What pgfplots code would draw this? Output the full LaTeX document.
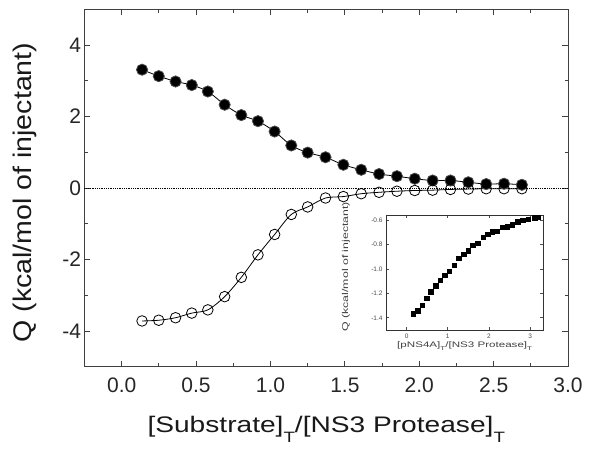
\documentclass[border=0pt]{standalone}
\usepackage{fontspec}
\setmainfont{Liberation Sans}
\newfontfamily\xlabfont[FakeStretch=1.25]{Liberation Sans}
\newfontfamily\ylabfont[FakeStretch=1.12]{Liberation Sans}
\newfontfamily\insetfont[FakeStretch=1.45]{Liberation Sans}
\usepackage{pgfplots}
\pgfplotsset{compat=1.18}
\newcommand{\sub}[1]{\raisebox{-10pt}{\fontsize{15}{15}\selectfont #1}}
\newcommand{\ssub}[1]{\raisebox{-3pt}{\fontsize{5.5}{6}\selectfont #1}}
\begin{document}
\begin{tikzpicture}
\path[use as bounding box] (-84.5pt,-84.3pt) rectangle (504.5pt,366.7pt);
\begin{axis}[
  at={(0pt,0pt)}, anchor=south west,
  scale only axis, width=483.5pt, height=357.4pt,
  xmin=-0.25, xmax=3.0, ymin=-5, ymax=5,
  xtick={0,0.5,1.0,1.5,2.0,2.5,3.0}, ytick={-4,-2,0,2,4},
  minor x tick num=1, minor y tick num=1,
  tick align=inside, xtick pos=both, ytick pos=both,
  major tick length=6pt, minor tick length=3.5pt,
  axis line style={line width=1pt, black!75},
  every tick/.style={black!75, line width=0.8pt},
  /pgf/number format/assume math mode=true,
  tick label style={font=\fontsize{21}{24}\selectfont, black!85},
  xticklabel style={yshift=-8pt, /pgf/number format/.cd, fixed, fixed zerofill, precision=1},
  yticklabel style={/pgf/number format/.cd, fixed},
  xlabel={\xlabfont\fontsize{22.5}{26}\selectfont [Substrate]\sub{T}/[NS3 Protease]\sub{T}},
  ylabel={\ylabfont\fontsize{25.5}{28}\selectfont Q (kcal/mol of injectant)},
  xlabel style={at={(axis description cs:0.5,-0.184)}, anchor=base, black!90},
  ylabel style={at={(axis description cs:-0.123,0.487)}, anchor=center, black!90},
  clip=false,
]
\addplot[black, line width=0.8pt, densely dotted, forget plot] coordinates {(-0.25,0) (3.0,0)};
\addplot[black, line width=0.8pt, smooth, tension=0.5, mark=*, mark size=5.6pt,
  mark options={fill=black, draw=black!70, solid}] coordinates {
(0.137,3.31) (0.249,3.13) (0.362,2.98) (0.471,2.88) (0.579,2.70) (0.692,2.33)
(0.804,2.04) (0.916,1.87) (1.028,1.58) (1.140,1.19) (1.250,0.99) (1.370,0.86)
(1.490,0.65) (1.610,0.51) (1.730,0.39) (1.850,0.33) (1.970,0.26) (2.090,0.21)
(2.210,0.21) (2.330,0.16) (2.450,0.11) (2.570,0.12) (2.690,0.09)};
\addplot[black, line width=0.8pt, smooth, tension=0.5, mark=o, mark size=5.3pt,
  mark options={draw=black, line width=0.8pt, solid}] coordinates {
(0.137,-3.72) (0.249,-3.70) (0.362,-3.63) (0.471,-3.50) (0.579,-3.41) (0.692,-3.04)
(0.804,-2.50) (0.916,-1.87) (1.028,-1.30) (1.140,-0.74) (1.250,-0.53) (1.370,-0.28)
(1.490,-0.24) (1.610,-0.16) (1.730,-0.12) (1.850,-0.09) (1.970,-0.07) (2.090,-0.06)
(2.210,-0.04) (2.330,-0.03) (2.450,-0.02) (2.570,-0.02) (2.690,-0.02)};
\end{axis}
\begin{axis}[
  at={(301.5pt,36.7pt)}, anchor=south west,
  scale only axis, width=157.3pt, height=115pt,
  xmin=-0.5, xmax=3.32, ymin=-1.5, ymax=-0.56,
  xtick={0,1,2,3}, ytick={-1.4,-1.2,-1.0,-0.8,-0.6},
  tick align=inside, xtick pos=both, ytick pos=both,
  major tick length=3pt,
  axis line style={line width=0.8pt, black!80},
  every tick/.style={black!70, line width=0.6pt},
  axis background/.style={fill=white},
  /pgf/number format/assume math mode=true,
  tick label style={font=\fontsize{6.5}{8}\selectfont, black!70},
  yticklabel style={/pgf/number format/.cd, fixed, fixed zerofill, precision=1},
  xlabel={\insetfont\fontsize{8}{9}\selectfont [pNS4A]\ssub{T}/[NS3 Protease]\ssub{T}},
  ylabel={\insetfont\fontsize{8.5}{9}\selectfont Q (kcal/mol of injectant)},
  xlabel style={at={(axis description cs:0.5,-0.14)}, anchor=center, black!75},
  ylabel style={at={(axis description cs:-0.254,0.55)}, anchor=center, black!75},
]
\addplot[only marks, mark=square*, mark size=2.2pt, black] coordinates {
(0.16,-1.368) (0.27,-1.341) (0.38,-1.298) (0.49,-1.242) (0.59,-1.187) (0.71,-1.139)
(0.82,-1.093) (0.93,-1.053) (1.04,-1.018) (1.16,-0.972) (1.27,-0.913) (1.39,-0.878)
(1.50,-0.851) (1.61,-0.805) (1.73,-0.789) (1.86,-0.743) (1.97,-0.719) (2.08,-0.697)
(2.19,-0.692) (2.32,-0.662) (2.44,-0.654) (2.57,-0.638) (2.70,-0.616) (2.82,-0.600)
(2.95,-0.595) (3.11,-0.582) (3.20,-0.576)};
\end{axis}
\end{tikzpicture}
\end{document}
